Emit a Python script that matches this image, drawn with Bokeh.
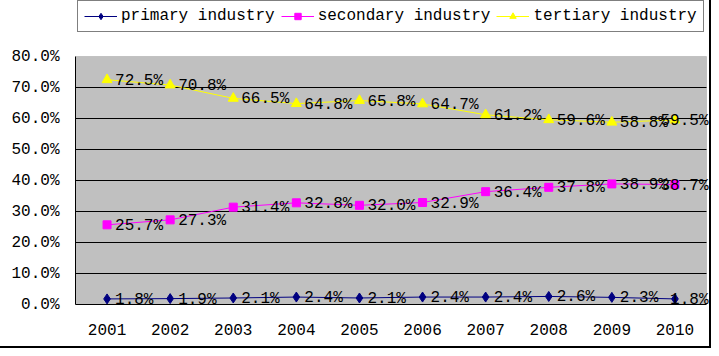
from bokeh.plotting import figure
from bokeh.models import (ColumnDataSource, Legend, LegendItem, FixedTicker,
                          PrintfTickFormatter, Range1d, LabelSet, BoxAnnotation)
from bokeh.core.properties import value
from bokeh.embed import file_html
from bokeh.resources import INLINE

years = [2001, 2002, 2003, 2004, 2005, 2006, 2007, 2008, 2009, 2010]
primary = [1.8, 1.9, 2.1, 2.4, 2.1, 2.4, 2.4, 2.6, 2.3, 1.8]
secondary = [25.7, 27.3, 31.4, 32.8, 32.0, 32.9, 36.4, 37.8, 38.9, 38.7]
tertiary = [72.5, 70.8, 66.5, 64.8, 65.8, 64.7, 61.2, 59.6, 58.8, 59.5]
series_names = ["primary industry", "secondary industry", "tertiary industry"]
y_ticks = [0, 10, 20, 30, 40, 50, 60, 70, 80]

FONT = "Liberation Mono"

# layout (pixels in the figure)
W, H = 711, 348
AREA_L, AREA_R, AREA_T, AREA_B = 75, 706, 56, 304
X0, X1 = years[0] - 0.5, years[-1] + 0.5
Y0, Y1 = y_ticks[0], y_ticks[-1]
x_end = X0 + (X1 - X0) * (W - AREA_L) / (AREA_R - AREA_L)
y_end = Y0 + (Y1 - Y0) * AREA_B / (AREA_B - AREA_T)

p = figure(width=W, height=H, output_backend="svg", toolbar_location=None,
           x_range=Range1d(X0, x_end), y_range=Range1d(Y0, y_end),
           min_border_left=AREA_L, min_border_right=0, min_border_top=0,
           min_border_bottom=H - AREA_B)
p.background_fill_color = "white"
p.border_fill_color = "white"
p.outline_line_color = None
p.styles = {"border-right": "2px solid #000000", "border-bottom": "2px solid #000000"}

# grey plot area
p.add_layout(BoxAnnotation(left=X0, right=X1, bottom=Y0, top=Y1, level="image",
                           fill_color="#C0C0C0", fill_alpha=1,
                           line_color="#808080", line_width=1))

# axes
p.xaxis.ticker = FixedTicker(ticks=years)
p.yaxis.ticker = FixedTicker(ticks=y_ticks)
p.yaxis.formatter = PrintfTickFormatter(format="%.1f%%")
p.xaxis.bounds = (X0, X1)
p.yaxis.bounds = (Y0, Y1)
for ax in (p.xaxis[0], p.yaxis[0]):
    ax.axis_line_color = "black"
    ax.axis_line_width = 1
    ax.major_tick_out = 0
    ax.major_tick_in = 0
    ax.minor_tick_out = 0
    ax.minor_tick_in = 0
    ax.major_label_text_font = FONT
    ax.major_label_text_font_size = "16px"
    ax.major_label_text_color = "black"
p.xaxis.major_label_standoff = 19
p.yaxis.major_label_standoff = 16

p.xgrid.visible = False
grid_vals = y_ticks[1:-1]
try:
    p.ygrid.ticker = FixedTicker(ticks=grid_vals)
    p.ygrid.grid_line_color = "black"
    p.ygrid.grid_line_width = 1
    p.ygrid.cross_bounds = (X0, X1)
except Exception:
    p.ygrid.visible = False
    p.segment(x0=[X0] * len(grid_vals), x1=[X1] * len(grid_vals),
              y0=grid_vals, y1=grid_vals, line_color="black", line_width=1)

colors = ["#000080", "#FF00FF", "#FFFF00"]
markers = ["diamond", "square", "triangle"]
sizes = [10, 8, 10]
data = [primary, secondary, tertiary]

CHAR_W = 9.6
x_last_px = AREA_L + (years[-1] - X0) * (AREA_R - AREA_L) / (X1 - X0)

items = []
for name, vals, c, m, s in zip(series_names, data, colors, markers, sizes):
    lbls = [f"{v:.1f}%" for v in vals]
    offs = []
    for i, t in enumerate(lbls):
        off = 8
        if i == len(lbls) - 1:
            off = min(8, (W - 3) - x_last_px - CHAR_W * len(t))
        offs.append(off)
    src = ColumnDataSource(dict(x=years, y=vals, lbl=lbls, off=offs))
    r1 = p.line("x", "y", source=src, line_color=c, line_width=1)
    r2 = p.scatter("x", "y", source=src, marker=m, size=s, fill_color=c, line_color=c)
    labels = LabelSet(x="x", y="y", text="lbl", source=src, x_offset="off", y_offset=-1,
                      text_font=value(FONT), text_font_size=value("16px"),
                      text_color="black", text_baseline="middle", text_align="left")
    p.add_layout(labels)
    items.append(LegendItem(label=name, renderers=[r1, r2]))

legend = Legend(items=items, orientation="horizontal", location=(2, 272),
                label_text_font=FONT, label_text_font_size="16px",
                label_text_color="black", glyph_width=33, glyph_height=16,
                label_height=18, label_standoff=4, spacing=6, padding=6, margin=0,
                border_line_color="black", border_line_width=1,
                background_fill_color="white", background_fill_alpha=1)
p.add_layout(legend, "center")

open("out.html", "w").write(file_html(p, INLINE))
